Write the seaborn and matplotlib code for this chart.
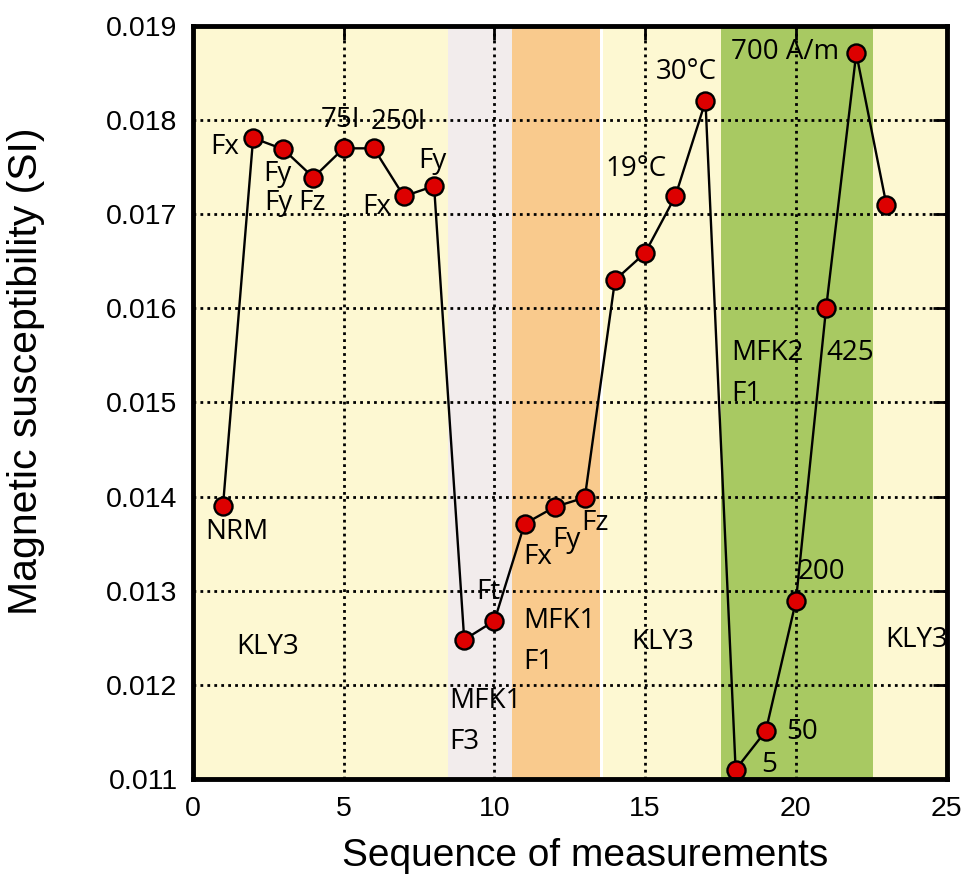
import matplotlib
matplotlib.use("Agg")
import matplotlib.pyplot as plt
import seaborn as sns
import pandas as pd

# Measurement sequence and bulk susceptibility values
step = list(range(1, 24))
susceptibility = [0.0139, 0.01781, 0.01769, 0.01739, 0.01770, 0.01770, 0.01719, 0.01730,
                  0.01248, 0.01268, 0.01371, 0.01389, 0.01399, 0.01630, 0.01659, 0.01719,
                  0.01820, 0.01110, 0.01151, 0.01289, 0.01600, 0.01871, 0.01710]

# Instrument / mode bands along the sequence: (start, end, colour)
band_start = [0.0, 8.45, 10.6, 13.6, 17.5, 22.55]
band_end = [8.45, 10.6, 13.5, 17.5, 22.55, 25.0]
band_color = ["#fdf8d2", "#f2ecec", "#f9ca8d", "#fdf8d2", "#a8c962", "#fdf8d2"]

# Point annotations: text, x, y
point_text = ["NRM", "Fx", "Fy", "Fy", "Fz", "75I", "250I", "Fx", "Fy",
              "Ft", "Fx", "Fy", "Fz", "19°C", "30°C", "700 A/m", "425", "200", "50", "5"]
point_x = [1.45, 1.05, 2.8, 2.85, 3.95, 4.9, 6.8, 6.1, 7.95,
           9.8, 11.45, 12.4, 13.35, 14.7, 16.35, 19.65, 21.8, 20.85, 20.2, 19.1]
point_y = [0.01362, 0.01771, 0.01743, 0.01712, 0.01712, 0.01800, 0.01798, 0.01708, 0.01757,
           0.01299, 0.01336, 0.01354, 0.01372, 0.01748, 0.01851, 0.01872, 0.01553, 0.01320,
           0.01150, 0.01115]

# Region labels: text, left x, centre y
region_text = ["KLY3", "MFK1\nF3", "MFK1\nF1", "KLY3", "MFK2\nF1", "KLY3"]
region_x = [1.45, 8.5, 10.95, 14.55, 17.87, 22.95]
region_y = [0.01240, 0.01161, 0.01246, 0.01245, 0.01531, 0.01248]

sns.set_theme(style="white")
plt.rcParams["font.family"] = ["Liberation Sans", "DejaVu Sans"]
plt.rcParams.update({"text.color": "black", "axes.labelcolor": "black",
                     "xtick.color": "black", "ytick.color": "black"})

fig = plt.figure(figsize=(9.69, 8.83), dpi=100)
ax = fig.add_axes([0.199, 0.1178, 0.778, 0.8528])

for s, e, c in zip(band_start, band_end, band_color):
    ax.axvspan(s, e, color=c, lw=0, zorder=0)

df = pd.DataFrame({"step": step, "chi": susceptibility})
sns.lineplot(data=df, x="step", y="chi", ax=ax, color="black", lw=1.7,
             marker="o", markersize=13, markerfacecolor="#dd0000",
             markeredgecolor="black", markeredgewidth=1.7, zorder=5)

ann_font = dict(family=["Open Sans", "DejaVu Sans"], fontsize=20, color="black")
for t, x, y in zip(point_text, point_x, point_y):
    ax.text(x, y, t, ha="center", va="center", zorder=6, **ann_font)
for t, x, y in zip(region_text, region_x, region_y):
    ax.text(x, y, t, ha="left", va="center", linespacing=1.6, zorder=6, **ann_font)

ax.set_xlim(0, 25)
ax.set_ylim(0.011, 0.019)
ax.set_xticks([0, 5, 10, 15, 20, 25])
ax.set_yticks([0.011 + 0.001 * i for i in range(9)])
ax.set_yticklabels([f"{0.011 + 0.001 * i:.3f}" for i in range(9)])
ax.grid(True, color="black", linestyle=(0, (1, 1.5)), linewidth=2.0, zorder=1)
ax.set_axisbelow(False)
for line in ax.get_xgridlines() + ax.get_ygridlines():
    line.set_zorder(1)

ax.tick_params(axis="both", which="both", direction="in", length=10, width=2,
               top=True, right=True, labelsize=20.5, color="black",
               labelcolor="black")
ax.tick_params(axis="y", pad=11)
ax.tick_params(axis="x", pad=12)
for sp in ax.spines.values():
    sp.set_linewidth(3.5)
    sp.set_color("black")
    sp.set_zorder(7)

ax.set_xlabel("Sequence of measurements", fontsize=28, color="black")
ax.set_ylabel("Magnetic susceptibility (SI)", fontsize=29.5, color="black")
ax.xaxis.set_label_coords(0.52, -0.078)
ax.yaxis.set_label_coords(-0.196, 0.542)

fig.savefig("out.png", dpi=100)
